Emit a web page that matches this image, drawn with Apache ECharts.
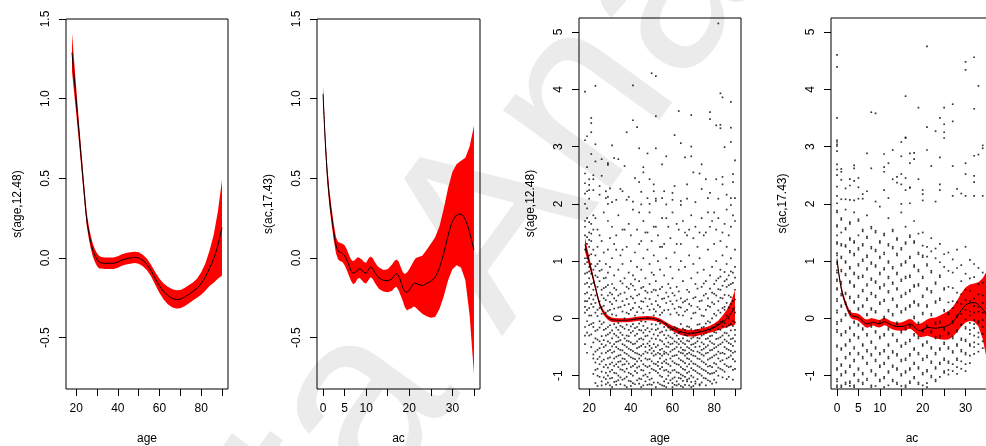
<!DOCTYPE html>
<html>
<head>
<meta charset="utf-8">
<script src="https://cdn.jsdelivr.net/npm/echarts@6/dist/echarts.min.js"></script>
<style>
  html, body { margin: 0; padding: 0; background: #fff; }
  #chart { width: 986px; height: 446px; }
</style>
</head>
<body>
<div id="chart"></div>
<script>
// ---- smooth term s(age, 12.48): evaluation grid, fit and pointwise band ----
const ageGrid  = [18,19,20,21,22,23,24,25,26,27,28,29,30,31,32,34,36,38,40,42,44,46,48,50,52,54,56,58,60,62,64,66,68,70,72,74,76,78,80,82,84,86,88,90];
const ageFit   = [1.29,1.14,0.99,0.84,0.69,0.54,0.39,0.25,0.165,0.10,0.05,0.015,-0.01,-0.025,-0.03,-0.033,-0.033,-0.033,-0.025,-0.013,-0.005,0.0,0.004,0.0,-0.015,-0.04,-0.08,-0.13,-0.175,-0.21,-0.235,-0.252,-0.26,-0.258,-0.245,-0.228,-0.21,-0.19,-0.16,-0.12,-0.065,-0.005,0.08,0.19];
const ageUpper = [1.41,1.24,1.07,0.905,0.745,0.59,0.435,0.292,0.205,0.14,0.09,0.055,0.03,0.015,0.006,0.003,0.003,0.003,0.011,0.023,0.031,0.036,0.04,0.036,0.021,-0.004,-0.044,-0.09,-0.13,-0.16,-0.18,-0.195,-0.203,-0.201,-0.188,-0.171,-0.153,-0.13,-0.09,-0.035,0.045,0.145,0.29,0.49];
const ageLower = [1.17,1.04,0.91,0.775,0.635,0.49,0.345,0.208,0.125,0.06,0.01,-0.025,-0.05,-0.065,-0.066,-0.069,-0.069,-0.069,-0.061,-0.049,-0.041,-0.036,-0.032,-0.036,-0.051,-0.076,-0.116,-0.17,-0.22,-0.26,-0.29,-0.309,-0.317,-0.315,-0.302,-0.285,-0.267,-0.25,-0.23,-0.205,-0.175,-0.155,-0.13,-0.11];

// ---- smooth term s(ac, 17.43) ----
const acGrid  = [0,0.5,1,1.5,2,2.5,3,3.5,4,4.5,5,5.5,6,6.5,7,7.5,8,8.5,9,9.5,10,10.5,11,11.5,12,12.5,13,14,15,16,16.5,17,17.5,18,18.5,19,19.5,20,20.5,21,21.5,22,23,24,25,26,27,28,29,30,31,32,33,34,35];
const acFit   = [1.03,0.74,0.52,0.37,0.26,0.16,0.08,0.045,0.035,0.03,0.015,-0.01,-0.045,-0.08,-0.095,-0.09,-0.075,-0.068,-0.075,-0.09,-0.095,-0.075,-0.058,-0.065,-0.09,-0.11,-0.125,-0.14,-0.142,-0.128,-0.11,-0.1,-0.11,-0.145,-0.185,-0.21,-0.215,-0.2,-0.18,-0.16,-0.158,-0.165,-0.172,-0.16,-0.145,-0.12,-0.06,0.03,0.14,0.23,0.27,0.275,0.24,0.16,0.05];
const acUpper = [1.08,0.79,0.57,0.42,0.31,0.21,0.13,0.10,0.095,0.09,0.08,0.055,0.02,-0.01,-0.02,-0.01,0.005,0.0,-0.01,-0.025,-0.03,-0.005,0.01,0.0,-0.025,-0.045,-0.06,-0.075,-0.07,-0.04,-0.02,-0.01,-0.02,-0.055,-0.09,-0.1,-0.09,-0.07,-0.045,-0.02,0.0,0.005,0.015,0.05,0.09,0.13,0.2,0.31,0.44,0.54,0.59,0.61,0.63,0.7,0.83];
const acLower = [0.98,0.69,0.47,0.32,0.21,0.11,0.03,-0.01,-0.02,-0.025,-0.045,-0.075,-0.11,-0.145,-0.165,-0.155,-0.13,-0.125,-0.14,-0.155,-0.16,-0.14,-0.12,-0.13,-0.155,-0.175,-0.195,-0.21,-0.215,-0.205,-0.19,-0.18,-0.2,-0.235,-0.27,-0.31,-0.33,-0.32,-0.315,-0.305,-0.31,-0.325,-0.35,-0.365,-0.375,-0.37,-0.32,-0.24,-0.14,-0.07,-0.045,-0.06,-0.14,-0.36,-0.73];

// ---- partial residuals for age: sparse upper points [age, value] ----
const ageResidHigh = [[82,5.15],[50,4.28],[52,4.23],[23,4.06],[41,4.07],[18,3.96],[83,3.93],[84,3.86],[88,3.78],[63,3.62],[78,3.6],[69,3.55],[52,3.53],[21,3.5],[78,3.48],[41,3.46],[21,3.41],[81,3.37],[83,3.38],[83,3.32],[88,3.33],[43,3.34],[38,3.25],[21,3.25],[61,3.2],[19,3.18],[18,3.11],[88,3.08],[64,3.06],[23,3.04],[31,3.02],[69,3.0],[85,2.99],[44,2.97],[52,2.97],[48,2.88],[21,2.87],[57,2.83],[69,2.83],[66,2.81],[32,2.8],[34,2.78],[26,2.78],[90,2.76],[23,2.74],[29,2.71],[29,2.68],[55,2.69],[74,2.69],[37,2.66],[46,2.64],[19,2.64],[46,2.55],[70,2.55],[73,2.53],[89,2.52],[18,2.53],[22,2.5],[26,2.49],[42,2.45],[49,2.43],[76,2.43],[81,2.43],[84,2.47],[20,2.43],[22,2.43],[44,2.38],[89,2.38],[18,2.36],[67,2.34],[84,2.34],[51,2.34],[20,2.33],[25,2.31],[61,2.31],[30,2.27],[74,2.26],[19,2.22],[20,2.24],[22,2.24],[35,2.26],[36,2.22],[28,2.22],[45,2.21],[51,2.22],[56,2.22],[60,2.19],[78,2.19],[18,2.18],[25,2.16],[86,2.16],[29,2.12],[39,2.12],[90,2.1],[20,2.09],[28,2.1],[33,2.07],[38,2.07],[48,2.1],[52,2.09],[52,2.05],[55,2.1],[60,2.07],[64,2.05],[67,2.09],[71,2.03],[77,2.1],[82,2.09],[88,2.1],[41,2.04],[45,1.99],[49,2.0],[57,1.99],[64,1.98],[88,1.98],[29,2.0],[31,2.03],
  [23,1.75],[27,1.85],[31,1.6],[34,1.8],[39,1.65],[41,1.9],[43,1.55],[46,1.7],[49,1.85],[51,1.6],[53,1.45],[55,1.75],[58,1.6],[60,1.85],[63,1.55],[65,1.7],[67,1.45],[69,1.8],[71,1.6],[74,1.75],[76,1.5],[79,1.7],[81,1.55],[85,1.65],[87,1.45],[89,1.8],[24,1.55],[29,1.7],[33,1.45],[37,1.55],[44,1.85],[57,1.75],[62,1.65],[70,1.4],[77,1.85],[83,1.35],[36,1.2],[45,1.35],[54,1.25],[64,1.3],[73,1.5],[80,1.85],[26,1.35],[48,1.5],[56,1.3],[68,1.55],[86,1.25],[90,1.7]];

// partial residuals for age, by age value
const ageResidCols = [
  [18,[1.45,1.2,0.95,0.6,0.3,0.1,-0.15,-0.45,1.7,1.6,0.78,0.43,0.2,1.05,-0.3,2.0]],
  [19,[1.3,1.05,0.8,0.45,0.15,-0.25,-0.6,1.75,0.62,0.3,1.42,0.98,-0.05,1.92]],
  [20,[1.5,1.1,0.7,0.35,0.05,-0.3,1.25,0.9,0.55,0.18,1.68,1.37,-0.12,0.82]],
  [21,[1.35,0.95,0.6,0.25,-0.1,-0.5,1.65,0.78,0.41,1.12,1.48,0.05,-0.28]],
  [22,[1.2,0.85,0.5,0.2,-0.15,-0.7,1.8,1.55,-0.08,-0.42,-0.63,-0.97,0.33,0.62]],
  [23,[1.1,0.75,0.4,0.1,-0.35,-0.9,-0.22,-0.58,-0.77,-1.13,0.27,0.91]],
  [24,[1.25,0.95,0.55,0.15,-0.2,-0.55,-1.0,-0.37,-0.71,-0.88,0.04,0.72,-1.18]],
  [25,[1.0,0.65,0.3,-0.05,-0.4,-0.8,1.45,-0.16,-0.52,-0.67,-1.02,0.18,0.83]],
  [26,[0.85,0.5,0.2,-0.1,-0.45,-0.75,-1.1,-0.31,-0.61,-0.93,0.08,0.41,-1.17]],
  [27,[1.15,0.7,0.35,-0.2,-0.5,-0.85,-0.07,-0.38,-0.72,-1.03,0.22,0.53]],
  [28,[0.95,0.55,0.1,-0.3,-0.6,-0.95,-1.15,-0.18,-0.47,-0.81,-1.06,0.32,0.71]],
  [29,[1.2,0.8,0.4,-0.15,-0.4,-0.7,-1.0,-0.28,-0.57,-0.86,-1.12,0.13,0.58]],
  [30,[0.9,0.45,0.15,-0.25,-0.55,-0.8,-1.05,1.4,-0.12,-0.43,-0.68,-0.93,-1.17,0.29]],
  [31,[1.05,0.6,0.25,-0.35,-0.6,-0.9,-1.2,-0.21,-0.49,-0.77,-1.04,0.07,0.42]],
  [32,[0.75,0.35,-0.1,-0.45,-0.7,-0.95,1.3,-0.27,-0.58,-0.83,-1.11,0.17,0.53]],
  [33,[1.2,0.5,0.05,-0.3,-0.5,-0.8,-1.1,-0.16,-0.41,-0.67,-0.96,-1.16,0.31]],
  [34,[0.85,0.4,-0.2,-0.4,-0.65,-0.85,-1.0,-0.08,-0.33,-0.53,-0.76,-1.08,0.19]],
  [35,[1.1,0.65,0.2,-0.25,-0.55,-0.75,-1.15,-0.13,-0.38,-0.64,-0.89,-1.03,0.43]],
  [36,[0.95,0.3,-0.15,-0.45,-0.7,-0.9,1.55,-0.29,-0.56,-0.81,-1.07,0.12,0.61]],
  [37,[0.7,0.45,0.0,-0.35,-0.6,-0.8,-1.05,-0.18,-0.47,-0.71,-0.93,-1.17,0.23]],
  [38,[1.25,0.55,0.1,-0.3,-0.5,-0.75,-1.2,-0.11,-0.39,-0.62,-0.88,-1.02,0.34]],
  [39,[0.8,0.25,-0.2,-0.4,-0.65,-0.95,-0.31,-0.53,-0.79,-1.09,0.08,0.52]],
  [40,[1.0,0.6,0.15,-0.25,-0.55,-0.85,-1.1,1.45,-0.14,-0.42,-0.68,-0.97,-1.18,0.38]],
  [41,[0.75,0.35,-0.1,-0.45,-0.7,-1.0,-0.22,-0.57,-0.83,-1.13,0.18,0.57]],
  [42,[1.15,0.5,0.05,-0.3,-0.6,-0.8,-1.15,-0.17,-0.44,-0.71,-0.92,0.27,0.68]],
  [43,[0.9,0.4,-0.15,-0.4,-0.75,-0.95,-0.27,-0.52,-0.61,-0.86,-1.08,0.11]],
  [44,[1.3,0.65,0.2,-0.2,-0.5,-0.7,-1.05,-0.09,-0.36,-0.63,-0.84,-1.14,0.42]],
  [45,[0.85,0.3,-0.05,-0.35,-0.65,-0.9,-1.2,-0.21,-0.48,-0.74,-1.06,0.17,0.53]],
  [46,[1.05,0.55,0.1,-0.25,-0.45,-0.8,-1.0,-0.13,-0.37,-0.62,-0.91,-1.17,0.29]],
  [47,[0.7,0.35,-0.2,-0.5,-0.7,-1.1,1.5,-0.06,-0.31,-0.58,-0.83,-0.98,0.48]],
  [48,[1.2,0.45,0.0,-0.3,-0.6,-0.85,-0.17,-0.44,-0.72,-1.02,-1.16,0.21]],
  [49,[0.95,0.6,0.15,-0.4,-0.55,-0.95,-1.15,-0.23,-0.48,-0.71,-0.83,-1.07,0.34]],
  [50,[0.8,0.25,-0.1,-0.35,-0.75,-1.05,1.35,-0.19,-0.52,-0.61,-0.88,-1.16,0.46]],
  [51,[1.1,0.5,0.05,-0.45,-0.65,-0.9,-0.28,-0.57,-0.79,-1.12,0.16,0.76]],
  [52,[0.65,0.3,-0.2,-0.5,-0.8,-1.2,1.6,-0.11,-0.36,-0.63,-0.92,0.12,0.49]],
  [53,[1.0,0.4,-0.05,-0.3,-0.6,-0.95,-0.18,-0.47,-0.76,-0.83,-1.12,0.23]],
  [54,[0.85,0.2,-0.25,-0.55,-0.7,-1.0,-1.15,-0.09,-0.38,-0.62,-0.88,0.06,0.51]],
  [55,[1.25,0.55,0.1,-0.4,-0.65,-0.85,-0.23,-0.53,-0.78,-1.02,-1.17,0.34]],
  [56,[0.75,0.35,-0.15,-0.45,-0.75,-1.1,-0.29,-0.58,-0.62,-0.91,-1.18,0.14]],
  [57,[1.05,0.45,-0.1,-0.35,-0.6,-0.9,-1.2,-0.21,-0.49,-0.72,-0.78,-1.06,0.27]],
  [58,[0.6,0.15,-0.3,-0.5,-0.8,-1.0,-0.16,-0.42,-0.63,-0.93,-1.13,0.38]],
  [59,[0.9,0.3,-0.2,-0.45,-0.7,-0.95,1.4,-0.33,-0.58,-0.83,-1.08,0.07,0.53]],
  [60,[0.7,0.25,-0.35,-0.55,-0.75,-1.05,-1.2,-0.19,-0.44,-0.66,-0.91,-1.13,0.44]],
  [61,[1.15,0.4,-0.15,-0.4,-0.65,-0.9,-0.26,-0.53,-0.78,-1.03,-1.16,0.17]],
  [62,[0.55,0.1,-0.3,-0.5,-0.8,-1.1,1.3,-0.17,-0.42,-0.64,-0.94,-1.17,0.31]],
  [63,[0.85,0.2,-0.25,-0.45,-0.7,-0.95,-1.15,-0.36,-0.58,-0.81,-1.04,0.06,0.47]],
  [64,[1.0,0.35,-0.1,-0.4,-0.6,-0.85,-1.05,-0.23,-0.51,-0.73,-0.98,-1.18,0.19]],
  [65,[0.65,0.05,-0.35,-0.55,-0.75,-1.0,-1.2,-0.18,-0.43,-0.61,-0.88,-1.09,0.28]],
  [66,[0.9,0.3,-0.2,-0.45,-0.65,-0.9,1.5,-0.29,-0.56,-0.78,-1.02,-1.16,0.12]],
  [67,[0.5,0.15,-0.3,-0.5,-0.7,-0.95,-1.1,-0.14,-0.39,-0.62,-0.84,-1.07,0.33]],
  [68,[1.1,0.25,-0.15,-0.4,-0.6,-0.8,-1.05,-0.27,-0.52,-0.71,-0.93,-1.17,0.46]],
  [69,[0.7,0.0,-0.35,-0.55,-0.75,-1.0,-1.2,-0.19,-0.46,-0.63,-0.87,-1.11,0.22]],
  [70,[0.95,0.35,-0.25,-0.45,-0.65,-0.9,-0.33,-0.57,-0.79,-1.03,-1.18,0.09]],
  [71,[0.6,0.1,-0.3,-0.5,-0.8,-1.1,-0.21,-0.43,-0.66,-0.92,-1.14,0.37]],
  [72,[0.8,0.2,-0.2,-0.4,-0.7,-0.95,1.25,-0.11,-0.34,-0.58,-0.83,-1.06,0.52]],
  [73,[1.05,0.3,-0.1,-0.35,-0.6,-0.85,-1.15,-0.23,-0.49,-0.71,-0.97,-1.17,0.16]],
  [74,[0.55,0.05,-0.3,-0.55,-0.75,-1.0,-0.16,-0.42,-0.63,-0.88,-1.12,0.31]],
  [75,[0.85,0.4,-0.15,-0.45,-0.65,-0.9,1.45,-0.28,-0.53,-0.77,-1.04,0.04,0.61]],
  [76,[0.65,0.15,-0.25,-0.5,-0.8,-1.05,-0.09,-0.36,-0.61,-0.92,-1.17,0.43]],
  [77,[1.2,0.35,-0.05,-0.35,-0.6,-0.95,-0.19,-0.47,-0.72,-0.84,-1.08,0.22]],
  [78,[0.75,0.2,-0.2,-0.4,-0.7,-1.1,1.6,-0.07,-0.31,-0.56,-0.83,-0.97,0.52]],
  [79,[0.9,0.45,0.0,-0.3,-0.55,-0.85,-0.16,-0.43,-0.68,-0.96,-1.14,0.28]],
  [80,[0.6,0.25,-0.15,-0.45,-0.65,-0.95,1.3,-0.24,-0.52,-0.78,-1.07,0.08,0.43]],
  [81,[1.0,0.4,0.05,-0.25,-0.5,-0.8,-0.11,-0.36,-0.63,-0.92,-1.12,0.66]],
  [82,[0.7,0.3,-0.1,-0.35,-0.7,-1.0,1.75,-0.19,-0.47,-0.58,-0.86,0.14,0.51]],
  [83,[0.85,0.5,0.1,-0.2,-0.45,-0.75,-0.06,-0.33,-0.61,-0.88,0.36,0.73]],
  [84,[1.1,0.35,-0.05,-0.3,-0.6,-0.9,1.5,-0.14,-0.42,-0.73,-1.03,0.18,0.57]],
  [85,[0.65,0.2,0.15,-0.25,-0.5,-0.8,-0.08,-0.37,-0.62,-0.93,0.41,0.81]],
  [86,[0.95,0.55,0.05,-0.15,-0.4,-0.7,1.9,-0.26,-0.53,-0.83,-1.06,0.27,0.68]],
  [87,[0.75,0.4,0.0,-0.3,-0.55,-0.85,-0.12,-0.43,-0.68,-1.02,0.19,0.58]],
  [88,[1.05,0.6,0.25,-0.1,-0.45,-0.65,1.6,-0.21,-0.36,-0.57,-0.84,0.37,0.82]],
  [89,[0.8,0.3,-0.05,-0.35,-0.6,-0.9,-0.13,-0.48,-0.71,-1.07,0.16,0.62]],
  [90,[0.9,0.5,0.1,-0.2,-0.4,-0.75,1.2,-0.07,-0.29,-0.58,-0.88,0.33,0.71]]
];

// ---- partial residuals for ac: sparse upper points [ac, value] ----
const acResidHigh = [[21,4.75],[0,4.6],[32,4.56],[30,4.48],[0,4.39],[30,4.34],[33,4.06],[16,3.88],[19,3.68],[25,3.68],[32,3.66],[27,3.74],[8,3.6],[9,3.58],[0,3.5],[24,3.5],[27,3.44],[21,3.34],[25,3.39],[23,3.27],[25,3.25],[25,3.15],[16,3.16],[16,3.15],[15,3.08],[0,3.11],[0,3.08],[0,3.04],[0,3.01],[0,2.92],[7,2.88],[13,2.94],[11,2.87],[21,2.94],[17,2.88],[18,2.89],[34,3.02],[34,2.97],[33,2.86],[32,2.84],[15,2.83],[24,2.81],[18,2.78],[12,2.71],[17,2.71],[30,2.71],[0,2.69],[4,2.67],[4,2.62],[22,2.66],[27,2.66],[8,2.62],[0,2.6],[1,2.61],[1,2.56],[11,2.64],[11,2.56],[15,2.52],[30,2.52],[0,2.5],[14,2.47],[16,2.45],[19,2.43],[32,2.49],[32,2.38],[1,2.42],[3,2.43],[4,2.4],[5,2.45],[13,2.43],[14,2.37],[15,2.34],[17,2.29],[17,2.28],[24,2.34],[0,2.3],[3,2.32],[5,2.29],[2,2.27],[7,2.22],[11,2.24],[16,2.24],[20,2.24],[20,2.17],[24,2.24],[28,2.26],[29,2.18],[30,2.14],[27,2.14],[32,2.14],[6,2.17],[0,2.14],[1,2.08],[2,2.08],[3,2.07],[4,2.06],[5,2.09],[6,2.09],[9,2.04],[12,2.1],[15,2.0],[17,2.01],[20,2.06],[23,2.04],[0,2.01],[34,2.14]];

// partial residuals for ac, by ac value
const acResidCols = [
  [0,[1.85,1.6,1.45,1.3,1.1,0.95,0.8,0.65,0.5,0.3,0.1,-0.1,-0.2,-0.5,-0.7,-0.9,-1.1,-1.2,1.88,1.63,1.33,1.14,0.98,0.84,0.68,0.53,0.34,0.14,-0.06,-0.24,-0.47,-0.73,-0.87,-1.06,-1.17]],
  [1,[1.75,1.5,1.3,1.05,0.85,0.6,0.4,0.2,-0.05,-0.3,-0.55,-0.8,-1.0,-1.2,1.72,1.27,1.08,0.82,0.64,0.43,0.23,-0.02,-0.27,-0.52,-0.83,-0.97,-1.17]],
  [2,[1.9,1.55,1.25,1.0,0.75,0.45,0.25,0.05,-0.25,-0.45,-0.7,-0.95,-1.15,1.58,1.28,0.97,0.78,0.42,0.28,0.08,-0.22,-0.48,-0.67,-0.92,-1.12]],
  [3,[1.65,1.4,1.15,0.9,0.65,0.35,0.1,-0.15,-0.4,-0.6,-0.85,-1.1,1.68,1.37,1.18,0.87,0.62,0.38,0.13,-0.18,-0.37,-0.63,-0.82,-1.13,-1.18]],
  [4,[1.85,1.35,1.1,0.8,0.55,0.3,-0.05,-0.3,-0.5,-0.75,-1.0,-1.2,1.32,1.13,0.77,0.58,0.27,-0.08,-0.27,-0.53,-0.72,-0.97,-1.17]],
  [5,[1.7,1.45,1.2,0.95,0.7,0.4,0.15,-0.1,-0.35,-0.6,-0.9,-1.1,1.73,1.23,0.92,0.73,0.37,0.18,-0.13,-0.32,-0.63,-0.87,-1.07]],
  [6,[1.55,1.3,1.0,0.75,0.5,0.2,-0.2,-0.45,-0.7,-0.95,-1.15,1.52,1.27,1.03,0.72,0.47,0.23,-0.17,-0.48,-0.67,-0.98,-1.12]],
  [7,[1.8,1.4,1.1,0.85,0.6,0.35,0.05,-0.3,-0.55,-0.8,-1.05,1.43,1.07,0.88,0.57,0.32,0.08,-0.27,-0.58,-0.77,-1.08]],
  [8,[1.6,1.25,0.95,0.7,0.45,0.15,-0.15,-0.4,-0.65,-0.9,-1.2,1.57,1.22,0.98,0.67,0.42,0.18,-0.12,-0.43,-0.62,-0.93,-1.17]],
  [9,[1.5,1.2,0.9,0.65,0.4,0.1,-0.25,-0.5,-0.75,-1.0,1.53,1.17,0.93,0.62,0.37,0.13,-0.22,-0.53,-0.72,-0.97,-1.18]],
  [10,[1.95,1.35,1.05,0.8,0.55,0.25,-0.05,-0.35,-0.6,-0.85,-1.1,1.32,1.08,0.77,0.52,0.28,-0.08,-0.32,-0.63,-0.82,-1.07]],
  [11,[1.45,1.15,0.85,0.6,0.3,0.0,-0.3,-0.55,-0.8,-1.05,-1.2,1.48,1.12,0.88,0.57,0.33,0.03,-0.27,-0.58,-0.77,-1.02]],
  [12,[1.75,1.3,1.0,0.7,0.45,0.15,-0.2,-0.45,-0.7,-0.95,1.27,0.97,0.73,0.48,0.12,-0.17,-0.48,-0.67,-0.92,-1.17]],
  [13,[1.55,1.25,0.9,0.6,0.35,0.05,-0.3,-0.6,-0.85,-1.1,1.52,1.22,0.87,0.63,0.32,0.08,-0.27,-0.57,-0.82,-1.07]],
  [14,[1.4,1.1,0.8,0.5,0.2,-0.1,-0.4,-0.65,-0.9,-1.15,1.37,1.13,0.77,0.53,0.23,-0.07,-0.37,-0.62,-0.87,-1.12]],
  [15,[1.85,1.2,0.95,0.65,0.4,0.1,-0.25,-0.5,-0.75,-1.0,1.23,0.92,0.68,0.37,0.13,-0.22,-0.47,-0.72,-0.97,-1.18]],
  [16,[1.6,1.3,1.0,0.7,0.45,0.15,-0.2,-0.45,-0.7,-0.95,-1.2,1.33,0.97,0.73,0.42,0.18,-0.17,-0.42,-0.73,-0.92,-1.17]],
  [17,[1.45,1.05,0.75,0.5,0.2,-0.15,-0.4,-0.65,-0.9,-1.1,1.42,1.08,0.72,0.47,0.23,-0.12,-0.37,-0.62,-0.87,-1.13]],
  [18,[1.7,1.35,0.9,0.55,0.3,0.0,-0.3,-0.55,-0.8,-1.05,1.32,0.93,0.58,0.27,0.03,-0.27,-0.52,-0.77,-1.02]],
  [19,[1.15,0.85,0.6,0.25,-0.1,-0.35,-0.6,-0.85,-1.15,1.48,1.12,0.82,0.57,0.22,-0.07,-0.32,-0.63,-0.88,-1.12]],
  [20,[1.5,1.1,0.7,0.4,0.1,-0.2,-0.45,-0.7,-0.95,1.27,1.07,0.73,0.37,0.07,-0.23,-0.48,-0.73,-0.98,-1.17]],
  [21,[1.25,0.95,0.5,0.2,-0.15,-0.4,-0.65,-0.9,-1.2,1.08,0.92,0.53,0.23,-0.12,-0.43,-0.68,-0.93,-1.13]],
  [22,[1.4,0.8,0.45,0.05,-0.25,-0.5,-0.75,-1.0,1.17,0.83,0.48,0.08,-0.22,-0.53,-0.78,-1.03]],
  [23,[1.05,0.6,0.3,-0.1,-0.35,-0.6,-0.85,-1.1,1.22,0.63,0.27,-0.07,-0.32,-0.63,-0.88,-1.07]],
  [24,[1.3,0.75,0.35,-0.05,-0.3,-0.55,-0.8,0.98,0.72,0.32,-0.08,-0.33,-0.52,-0.77,-1.02]],
  [25,[0.9,0.5,0.15,-0.2,-0.45,-0.7,-0.95,1.12,0.53,0.12,-0.17,-0.42,-0.73,-0.92]],
  [26,[1.15,0.55,0.1,-0.25,-0.5,-0.75,-0.9,0.83,0.28,0.07,-0.28,-0.53,-0.78,-0.98]],
  [27,[0.8,0.3,-0.05,-0.35,-0.6,-0.8,1.03,0.53,0.18,-0.08,-0.32,-0.57,-0.92]],
  [28,[1.2,0.45,0.05,-0.2,-0.45,-0.7,-0.85,0.88,0.28,0.02,-0.23,-0.48,-0.73,-0.97]],
  [29,[0.65,0.25,-0.1,-0.35,-0.55,-0.75,0.93,0.42,0.08,-0.12,-0.38,-0.58,-0.88]],
  [30,[1.25,0.5,0.15,-0.15,-0.4,-0.6,-0.8,0.78,0.32,-0.02,-0.18,-0.37,-0.63,-0.92]],
  [31,[0.7,0.3,0.05,-0.2,-0.45,-0.65,1.02,0.48,0.12,-0.08,-0.27,-0.48,-0.78]],
  [32,[0.95,0.35,0.1,-0.1,-0.3,-0.5,0.72,0.22,-0.03,-0.17,-0.42,-0.62]],
  [33,[0.6,0.2,-0.05,-0.25,-0.45,0.88,0.42,0.12,-0.08,-0.33,-0.58]],
  [34,[0.8,0.4,0.1,-0.15,-0.4,0.62,0.27,-0.03,-0.27,-0.52]],
  [35,[0.5,0.2,-0.1,-0.35,0.72,0.33,0.02,-0.22]]
];

// ---- axis ticks ----
const ageTicks = [20,30,40,50,60,70,80,90];
const ageTickLabels = [20,40,60,80];
const acTicks = [0,5,10,15,20,25,30,35];
const acTickLabels = [0,5,10,20,30];
const smallYTicks = [-0.5,0,0.5,1,1.5];
const wideYTicks = [-1,0,1,2,3,4,5];

const watermarkText = 'Data Analysis';

// ---- helpers ----
const FONT = '"Liberation Sans", Arial, Helvetica, sans-serif';
const pairs = (xs, ys) => xs.map((x, i) => [x, ys[i]]);
const flattenCols = cols => cols.flatMap(([x, vals]) => vals.map(v => [x, v]));

function bandSeries(xs, up, lo, gi) {
  return {
    type: 'custom', xAxisIndex: gi, yAxisIndex: gi, z: 2, silent: true,
    data: [0],
    renderItem: function (params, api) {
      const pts = [];
      for (let i = 0; i < xs.length; i++) pts.push(api.coord([xs[i], up[i]]));
      for (let i = xs.length - 1; i >= 0; i--) pts.push(api.coord([xs[i], lo[i]]));
      const cs = params.coordSys;
      return {
        type: 'polygon',
        shape: { points: pts },
        style: { fill: '#ff0000', stroke: null },
        clipPath: { type: 'rect', shape: { x: cs.x, y: cs.y, width: cs.width, height: cs.height } }
      };
    }
  };
}
function fitSeries(xs, ys, gi) {
  return {
    type: 'line', xAxisIndex: gi, yAxisIndex: gi, z: 3, silent: true,
    data: pairs(xs, ys), symbol: 'none', showSymbol: false, smooth: 0.3,
    lineStyle: { color: '#000', width: 1 }
  };
}
function residSeries(pts, gi) {
  return {
    type: 'scatter', xAxisIndex: gi, yAxisIndex: gi, z: 4, silent: true,
    data: pts, symbol: 'rect', symbolSize: 1.7, itemStyle: { color: '#000' }
  };
}
function xAxisFor(gi, min, max, ticks, labels, name) {
  return {
    type: 'value', gridIndex: gi, min: min, max: max, position: 'bottom',
    name: name, nameLocation: 'middle', nameGap: 44,
    nameTextStyle: { color: '#000', fontSize: 12, fontFamily: FONT },
    axisLine: { show: false, onZero: false },
    axisTick: { show: true, length: 7, customValues: ticks, lineStyle: { color: '#000', width: 1 } },
    axisLabel: { show: true, customValues: labels, margin: 14, color: '#000', fontSize: 12, fontFamily: FONT,
                 formatter: v => String(v) },
    splitLine: { show: false }
  };
}
function yAxisFor(gi, min, max, ticks, digits, name) {
  return {
    type: 'value', gridIndex: gi, min: min, max: max, position: 'left',
    name: name, nameLocation: 'middle', nameGap: 42, nameRotate: 90,
    nameTextStyle: { color: '#000', fontSize: 12, fontFamily: FONT },
    axisLine: { show: false, onZero: false },
    axisTick: { show: true, length: 7, customValues: ticks, lineStyle: { color: '#000', width: 1 } },
    axisLabel: { show: true, customValues: ticks, rotate: 90, margin: 14, color: '#000', fontSize: 12, fontFamily: FONT,
                 formatter: v => Number(v).toFixed(digits) },
    splitLine: { show: false }
  };
}
const gridBox = (left, top, width, height) => ({
  left: left, top: top, width: width, height: height,
  show: true, borderColor: '#000', borderWidth: 1, backgroundColor: 'transparent',
  containLabel: false, outerBoundsMode: 'none'
});

const chart = echarts.init(document.getElementById('chart'), null, { renderer: 'canvas' });
chart.setOption({
  animation: false,
  backgroundColor: '#ffffff',
  graphic: {
    elements: [{
      type: 'text', x: 196, y: 853, rotation: 54 * Math.PI / 180, z: -10, silent: true,
      style: { text: watermarkText, font: 'normal 250px ' + FONT, fill: '#ebebeb',
               textAlign: 'left', textVerticalAlign: 'bottom', verticalAlign: 'bottom' }
    }]
  },
  grid: [
    gridBox(66, 19, 162, 370),
    gridBox(317, 19, 163, 370),
    gridBox(579, 18, 162, 371),
    gridBox(831, 18, 162, 371)
  ],
  xAxis: [
    xAxisFor(0, 15.12, 92.88, ageTicks, ageTickLabels, 'age'),
    xAxisFor(1, -1.4, 36.4, acTicks, acTickLabels, 'ac'),
    xAxisFor(2, 15.12, 92.88, ageTicks, ageTickLabels, 'age'),
    xAxisFor(3, -1.4, 36.4, acTicks, acTickLabels, 'ac')
  ],
  yAxis: [
    yAxisFor(0, -0.822, 1.5, smallYTicks, 1, 's(age,12.48)'),
    yAxisFor(1, -0.822, 1.5, smallYTicks, 1, 's(ac,17.43)'),
    yAxisFor(2, -1.233, 5.245, wideYTicks, 0, 's(age,12.48)'),
    yAxisFor(3, -1.233, 5.245, wideYTicks, 0, 's(ac,17.43)')
  ],
  series: [
    bandSeries(ageGrid, ageUpper, ageLower, 0),
    fitSeries(ageGrid, ageFit, 0),
    bandSeries(acGrid, acUpper, acLower, 1),
    fitSeries(acGrid, acFit, 1),
    bandSeries(ageGrid, ageUpper, ageLower, 2),
    fitSeries(ageGrid, ageFit, 2),
    residSeries(ageResidHigh.concat(flattenCols(ageResidCols)), 2),
    bandSeries(acGrid, acUpper, acLower, 3),
    fitSeries(acGrid, acFit, 3),
    residSeries(acResidHigh.concat(flattenCols(acResidCols)), 3)
  ]
});
</script>
</body>
</html>
